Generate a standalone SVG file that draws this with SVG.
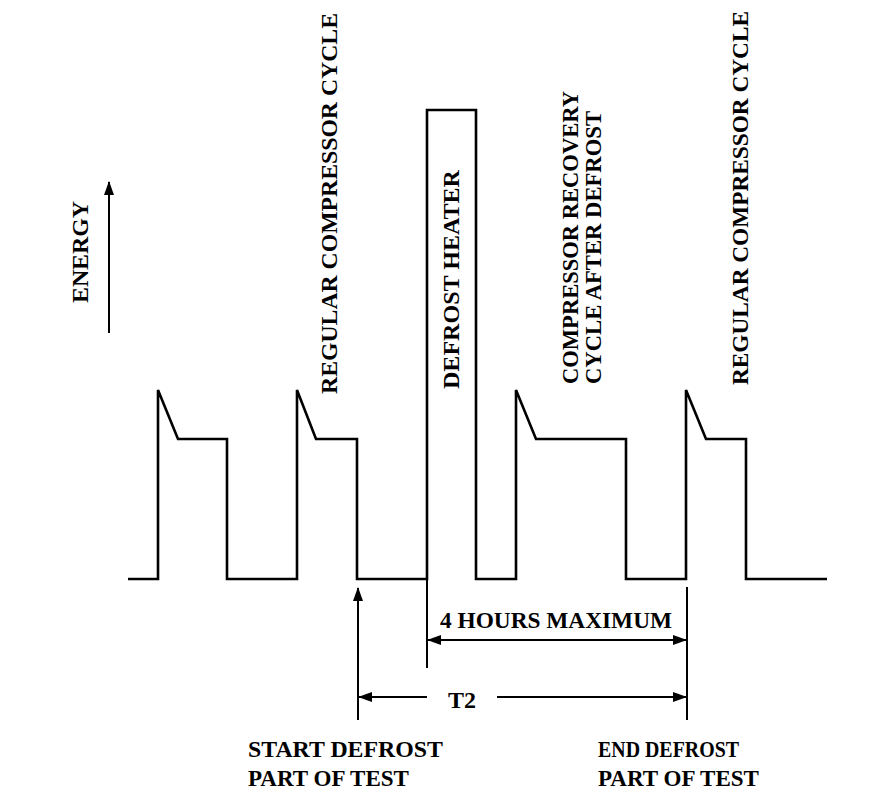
<svg xmlns="http://www.w3.org/2000/svg" width="880" height="791" viewBox="0 0 880 791">
<defs>
<style>
.t{font-family:'Liberation Serif','Times New Roman',serif;font-weight:700;font-size:24px;fill:#000}
.w{fill:none;stroke:#000;stroke-width:2.6;stroke-linejoin:miter}
.l{fill:none;stroke:#000;stroke-width:2}
</style>
<marker id="ah" viewBox="0 0 14 10" refX="13" refY="5" markerWidth="14" markerHeight="10" markerUnits="userSpaceOnUse" orient="auto-start-reverse">
<path d="M0,0 L14,5 L0,10 Z" fill="#000"/>
</marker>
</defs>
<rect width="880" height="791" fill="#fff"/>
<g id="waveform">
<path class="w" d="M128,579 H158 V390 L178,439 H227 V579 H297 V390 L316,439 H357 V579 H427 V110 H476 V579 H516 V390 L536,439 H626 V579 H686 V390 L706,439 H746 V579 H827"/>
</g>
<g id="energy-axis">
<line class="l" x1="109" y1="333" x2="109" y2="182" marker-end="url(#ah)"/>
<text class="t" transform="translate(88,303) rotate(-90)" textLength="102" lengthAdjust="spacingAndGlyphs">ENERGY</text>
</g>
<g id="labels">
<text class="t" transform="translate(337,394) rotate(-90)" textLength="381" lengthAdjust="spacingAndGlyphs">REGULAR COMPRESSOR CYCLE</text>
<text class="t" transform="translate(459,389) rotate(-90)" textLength="219" lengthAdjust="spacingAndGlyphs">DEFROST HEATER</text>
<text class="t" transform="translate(578,384) rotate(-90)" textLength="293" lengthAdjust="spacingAndGlyphs">COMPRESSOR RECOVERY</text>
<text class="t" transform="translate(601,384) rotate(-90)" textLength="273" lengthAdjust="spacingAndGlyphs">CYCLE AFTER DEFROST</text>
<text class="t" transform="translate(748,385) rotate(-90)" textLength="374" lengthAdjust="spacingAndGlyphs">REGULAR COMPRESSOR CYCLE</text>
</g>
<g id="connectors">
<line class="l" x1="427" y1="579" x2="427" y2="668"/>
<line class="l" x1="687" y1="587" x2="687" y2="720"/>
<line class="l" x1="358" y1="720" x2="358" y2="588" marker-end="url(#ah)"/>
<line class="l" x1="428" y1="640" x2="686" y2="640" marker-start="url(#ah)" marker-end="url(#ah)"/>
<line class="l" x1="427" y1="697" x2="359" y2="697" marker-end="url(#ah)"/>
<line class="l" x1="497" y1="697" x2="686" y2="697" marker-end="url(#ah)"/>
</g>
<g id="dimension-labels">
<text class="t" x="440" y="628" textLength="232" lengthAdjust="spacingAndGlyphs">4 HOURS MAXIMUM</text>
<text class="t" x="448" y="708" textLength="28" lengthAdjust="spacingAndGlyphs">T2</text>
</g>
<g id="bottom-labels">
<text class="t" x="248" y="757" textLength="195" lengthAdjust="spacingAndGlyphs">START DEFROST</text>
<text class="t" x="248" y="786" textLength="161" lengthAdjust="spacingAndGlyphs">PART OF TEST</text>
<text class="t" x="598" y="757" textLength="141" lengthAdjust="spacingAndGlyphs">END DEFROST</text>
<text class="t" x="598" y="786" textLength="161" lengthAdjust="spacingAndGlyphs">PART OF TEST</text>
</g>
</svg>
